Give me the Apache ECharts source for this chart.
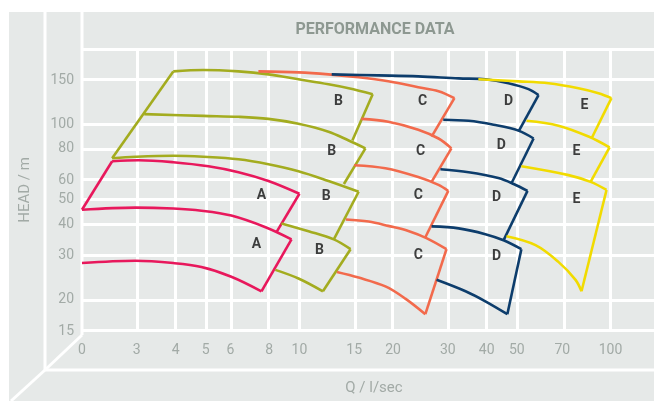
<!DOCTYPE html>
<html>
<head>
<meta charset="utf-8">
<title>Performance data</title>
<script src="https://cdn.jsdelivr.net/npm/echarts@6/dist/echarts.min.js"></script>
<style>
    html, body { margin: 0; padding: 0; background: #fff; }
    #chart { width: 654px; height: 401px; }
</style>
</head>
<body>
<div id="chart"></div>
<script>
// axis ticks (Q in l/sec, H in m) - the "0" label sits at Q = 2
const xTicks = [2, 3, 4, 5, 6, 8, 10, 15, 20, 30, 40, 50, 70, 100]
const xTickLabels = ['0', '3', '4', '5', '6', '8', '10', '15', '20', '30', '40', '50', '70', '100']
const yTicks = [15, 20, 30, 40, 50, 60, 80, 100, 150]
const yGridTicks = [15, 20, 30, 40, 50, 60, 80, 100, 150, 200]
const xMax = 138
const yMax = 200

// pump curves, [Q, H]
const curvesA = [
    [[2.50, 71.3], [3.04, 72.0], [3.93, 70.7], [5.10, 68.1], [6.37, 64.5], [7.95, 59.5], [10.0, 52.9]],
    [[2.0, 45.7], [2.97, 46.6], [3.93, 46.2], [4.84, 45.3], [6.04, 43.3], [7.78, 38.9], [9.43, 34.8]],
    [[2.0, 28.0], [2.97, 28.6], [3.93, 28.0], [4.84, 27.0], [6.04, 24.7], [7.55, 21.6]]
]
const edgesA = [
    [[2.0, 45.7], [2.50, 71.3]],
    [[10.0, 52.9], [8.43, 37.1]],
    [[9.43, 34.8], [7.55, 21.6]]
]
const curvesB = [
    [[3.93, 162.8], [4.91, 165.0], [6.37, 162.8], [7.95, 158.4], [9.93, 151.4], [12.4, 144.7], [14.4, 139.5], [17.2, 132.1]],
    [[3.17, 110.0], [4.91, 108.2], [6.37, 107.3], [7.95, 105.3], [9.93, 100.7], [12.4, 93.6], [14.4, 86.3], [16.3, 80.3]],
    [[2.50, 73.3], [2.97, 74.3], [3.93, 75.0], [4.91, 74.3], [6.37, 72.6], [7.95, 69.4], [9.93, 65.1], [12.4, 59.5], [15.5, 53.9]],
    [[8.75, 40.3], [10.7, 37.5], [12.9, 34.8], [14.6, 31.8]],
    [[8.37, 26.3], [9.93, 24.3], [11.9, 21.6]]
]
const edgesB = [
    [[2.50, 73.3], [3.93, 162.8]],
    [[17.2, 132.1], [14.8, 86.3]],
    [[16.3, 80.3], [13.9, 57.9]],
    [[15.5, 53.9], [12.9, 34.8]],
    [[14.6, 31.8], [11.9, 21.6]]
]
const curvesC = [
    [[7.38, 162.8], [9.93, 161.3], [12.4, 158.4], [15.5, 154.2], [19.3, 148.6], [24.1, 140.8], [28.0, 135.8], [31.5, 127.4]],
    [[15.8, 105.3], [19.3, 102.5], [24.1, 95.3], [28.0, 87.9], [30.8, 80.3]],
    [[15.0, 68.8], [18.9, 66.9], [24.1, 61.7], [28.0, 57.4], [30.1, 54.3]],
    [[14.1, 41.8], [16.7, 41.0], [19.3, 39.4], [22.4, 37.6], [25.6, 35.2], [29.7, 31.8]],
    [[13.2, 25.8], [15.5, 24.5], [18.9, 22.6], [21.9, 20.2], [25.4, 17.5]]
]
const edgesC = [
    [[31.5, 127.4], [26.6, 89.5]],
    [[30.8, 80.3], [26.6, 59.0]],
    [[30.1, 54.3], [25.4, 35.5]],
    [[29.7, 31.8], [25.4, 17.5]]
]
const curvesD = [
    [[12.7, 158.4], [17.9, 157.0], [24.1, 155.6], [32.5, 152.7], [39.6, 151.4], [47.0, 146.0], [54.5, 138.3], [58.7, 130.9]],
    [[29.0, 104.4], [35.0, 103.4], [42.1, 99.7], [50.6, 94.5], [56.6, 87.9]],
    [[28.4, 66.3], [35.0, 64.5], [43.6, 61.1], [48.8, 57.9], [54.1, 54.3]],
    [[26.6, 39.2], [32.5, 38.5], [39.6, 36.5], [45.3, 34.5], [51.7, 31.8]],
    [[27.6, 24.0], [34.2, 21.6], [39.6, 19.7], [46.6, 17.5]]
]
const edgesD = [
    [[58.7, 130.9], [50.6, 93.6]],
    [[56.6, 87.9], [48.1, 58.4]],
    [[54.1, 54.3], [45.3, 34.5]],
    [[51.7, 31.8], [46.6, 17.5]]
]
const curvesE = [
    [[37.6, 151.4], [50.6, 148.6], [63.2, 146.0], [78.9, 139.5], [91.5, 133.3], [100.7, 127.4]],
    [[53.7, 103.4], [68.0, 98.9], [85.0, 89.5], [99.3, 81.0]],
    [[51.7, 68.1], [73.3, 62.8], [86.3, 59.0], [97.1, 54.8]],
    [[46.3, 35.8], [57.4, 33.0], [68.0, 28.3], [77.2, 24.0], [80.7, 21.6]]
]
const edgesE = [
    [[100.7, 127.4], [86.9, 87.9]],
    [[99.3, 81.0], [86.3, 59.0]],
    [[97.1, 54.8], [80.7, 21.6]]
]

// letter labels inside the curve fields: [text, Q, H]
const fieldLabels = [
    ['A', 7.55, 51.9], ['A', 7.27, 33.3],
    ['B', 13.35, 124], ['B', 12.7, 78.1], ['B', 12.2, 51.5], ['B', 11.6, 31.5],
    ['C', 24.9, 123], ['C', 24.5, 78.1], ['C', 24.1, 51.9], ['C', 24.1, 29.9],
    ['D', 47.0, 124], ['D', 44.6, 82.5], ['D', 43.0, 51.0], ['D', 43.0, 29.6],
    ['E', 82.5, 118.5], ['E', 77.7, 78.1], ['E', 77.7, 50.1]
]

const models = [
    { curves: curvesA, edges: edgesA, color: '#e8185c' },
    { curves: curvesB, edges: edgesB, color: '#a3ac1f' },
    { curves: curvesC, edges: edgesC, color: '#f26a4c' },
    { curves: curvesD, edges: edgesD, color: '#0d3d6c' },
    { curves: curvesE, edges: edgesE, color: '#f1db00' }
]

const lg = (v) => Math.log10(v)
const toLog = (pts) => pts.map(p => [lg(p[0]), lg(p[1])])
const fontFamily = 'Roboto, "Noto Sans", sans-serif'
const tickColor = '#a2aaa6'

const series = []
// white grid lines
series.push({
    type: 'line',
    data: [],
    z: 1,
    silent: true,
    markLine: {
        silent: true,
        animation: false,
        z: 1,
        symbol: ['none', 'none'],
        label: { show: false },
        lineStyle: { color: '#ffffff', width: 3, type: 'solid' },
        data: [
            ...xTicks.map(v => ({ xAxis: lg(v) })),
            ...yGridTicks.map(v => ({ yAxis: lg(v) }))
        ]
    }
})
models.forEach(m => {
    m.curves.forEach(c => {
        series.push({
            type: 'line',
            data: toLog(c),
            smooth: 0.35,
            symbol: 'none',
            z: 3,
            lineStyle: { color: m.color, width: 2.6 }
        })
    })
    m.edges.forEach(e => {
        series.push({
            type: 'line',
            data: toLog(e),
            smooth: false,
            symbol: 'none',
            z: 3,
            lineStyle: { color: m.color, width: 2.6 }
        })
    })
})
series.push({
    type: 'scatter',
    data: fieldLabels.map(l => [lg(l[1]), lg(l[2]), l[0]]),
    symbolSize: 1,
    itemStyle: { color: 'rgba(0,0,0,0)' },
    z: 6,
    label: {
        show: true,
        position: 'inside',
        formatter: (p) => p.value[2],
        color: '#111',
        fontWeight: 'bold',
        fontSize: 14,
        fontFamily: fontFamily
    }
})

const findLabel = (v, ticks, labels) => {
    for (let i = 0; i < ticks.length; i++) {
        if (Math.abs(lg(ticks[i]) - v) < 1e-6) return labels[i]
    }
    return ''
}

const chart = echarts.init(document.getElementById('chart'))
chart.setOption({
    animation: false,
    graphic: [
        { type: 'rect', z: -10, shape: { x: 9, y: 12, width: 645, height: 389 }, style: { fill: '#e6e9e8' } },
        { type: 'line', z: 0, shape: { x1: 45, y1: 12, x2: 45, y2: 370 }, style: { stroke: '#fff', lineWidth: 3 } },
        { type: 'line', z: 0, shape: { x1: 82, y1: 12, x2: 82, y2: 335 }, style: { stroke: '#fff', lineWidth: 3 } },
        { type: 'line', z: 0, shape: { x1: 44, y1: 370, x2: 654, y2: 370 }, style: { stroke: '#fff', lineWidth: 3 } },
        { type: 'line', z: 0, shape: { x1: 82, y1: 335, x2: 45, y2: 370 }, style: { stroke: '#fff', lineWidth: 3 } },
        { type: 'line', z: 0, shape: { x1: 45, y1: 370, x2: 11, y2: 401 }, style: { stroke: '#fff', lineWidth: 3 } },
        {
            type: 'text', z: 0, x: 375, y: 30,
            style: {
                text: 'PERFORMANCE DATA', fill: '#8d9891',
                font: 'bold 16px ' + fontFamily,
                align: 'center', verticalAlign: 'middle',
                textAlign: 'center', textVerticalAlign: 'middle'
            }
        }
    ],
    grid: { left: 82, right: 0, top: 49, bottom: 66 },
    xAxis: {
        type: 'value',
        min: lg(xTicks[0]),
        max: lg(xMax),
        axisLine: { show: false },
        axisTick: { show: false },
        splitLine: { show: false },
        axisLabel: {
            customValues: xTicks.map(lg),
            formatter: (v) => findLabel(v, xTicks, xTickLabels),
            color: tickColor,
            fontSize: 14,
            fontFamily: fontFamily,
            margin: 12
        },
        name: 'Q / l/sec',
        nameLocation: 'middle',
        nameGap: 50,
        nameTextStyle: { color: tickColor, fontSize: 15, fontFamily: fontFamily, padding: [0, 0, 0, 12] }
    },
    yAxis: {
        type: 'value',
        min: lg(yTicks[0]),
        max: lg(yMax),
        axisLine: { show: false },
        axisTick: { show: false },
        splitLine: { show: false },
        axisLabel: {
            customValues: yTicks.map(lg),
            formatter: (v) => findLabel(v, yTicks, yTicks.map(String)),
            color: tickColor,
            fontSize: 14,
            fontFamily: fontFamily,
            margin: 8
        },
        name: 'HEAD / m',
        nameLocation: 'middle',
        nameGap: 49,
        nameTextStyle: { color: tickColor, fontSize: 15, fontFamily: fontFamily }
    },
    series: series
})
window.onresize = () => {
    chart.resize()
}
</script>
</body>
</html>
